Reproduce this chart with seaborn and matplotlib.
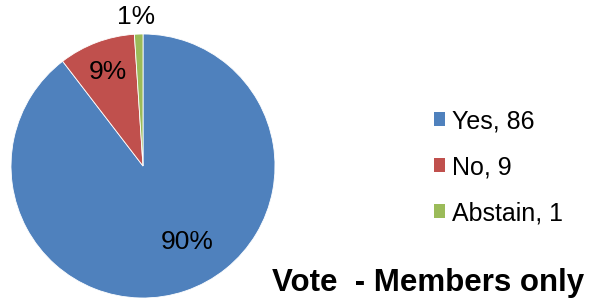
import seaborn as sns
import matplotlib.pyplot as plt
from matplotlib.patches import Patch

# vote results
labels = ['Yes', 'No', 'Abstain']
votes = [86, 9, 1]
colors = ['#4F81BD', '#C0504D', '#9BBB59']
# where excel put the percent labels (pie data coords)
pct_pos = [(0.333, -0.576), (-0.265, 0.712), (-0.053, 1.13)]

sns.set_theme(style='white')
plt.rcParams['font.family'] = ['Liberation Sans', 'DejaVu Sans']
plt.rcParams['text.color'] = 'black'

W, H = 591, 303
fig = plt.figure(figsize=(W / 100, H / 100), dpi=100)
fig.patch.set_facecolor('white')

# pie axes: centre ~ (143,166) px, radius ~132 px
ax = fig.add_axes([11 / W, (H - 298) / H, 264 / W, 264 / H])
wedges, texts, autotexts = ax.pie(votes, colors=colors, startangle=90, counterclock=False,
                                  autopct=lambda p: '%.0f%%' % p,
                                  wedgeprops=dict(edgecolor='white', linewidth=0.6),
                                  textprops=dict(fontsize=19, color='black'))
for t, pos in zip(autotexts, pct_pos):
    t.set_position(pos)
    t.set_ha('center')
    t.set_va('center')
ax.set_xlim(-1, 1)
ax.set_ylim(-1, 1)
ax.set_aspect('equal')
ax.axis('off')

handles = [Patch(facecolor=c, edgecolor='none') for c in colors]
leg_labels = ['%s, %d' % (l, v) for l, v in zip(labels, votes)]
fig.legend(handles, leg_labels, loc='center left', bbox_to_anchor=(421 / W, 1 - 167 / H),
           frameon=False, fontsize=18, handlelength=0.47, handleheight=0.47,
           handletextpad=0.28, labelspacing=0.88, borderpad=0, labelcolor='black')

fig.text(584 / W, 1 - 283 / H, 'Vote  - Members only', ha='right', va='center',
         fontsize=22.5, fontweight='bold', color='black')

fig.savefig('out.png', dpi=100)
